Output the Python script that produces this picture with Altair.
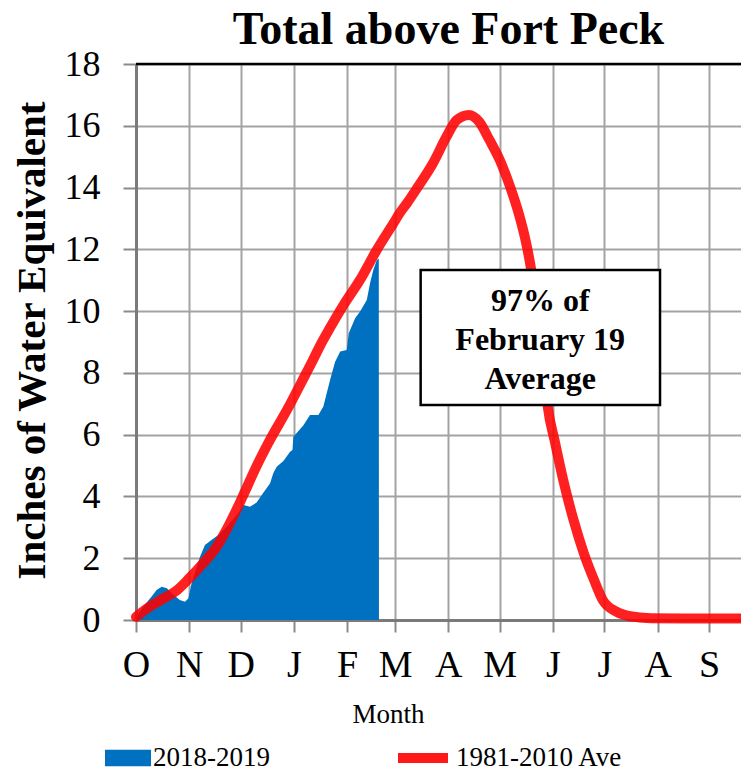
import altair as alt
import pandas as pd

# ---------------- data ----------------
title_text = "Total above Fort Peck"
y_title = "Inches of Water Equivalent"
x_title = "Month"

month_ticks = [0, 31, 61, 92, 123, 151, 182, 212, 243, 273, 304, 334]
month_labels = ["O", "N", "D", "J", "F", "M", "A", "M", "J", "J", "A", "S"]
y_ticks = [0, 2, 4, 6, 8, 10, 12, 14, 16, 18]

series_current = "2018-2019"
series_average = "1981-2010 Ave"

# days since Oct 1 / inches of SWE, current season
cur_days = [0, 2, 6, 9, 12, 15, 18, 21, 25.5, 28.5, 30.5, 32.4, 37.3, 40.2, 44,
            48, 52.8, 58.7, 62.6, 66.4, 70.3, 74.2, 78.1, 80, 82, 85.9, 89.8,
            91.2, 91.7, 97.5, 101.4, 106.3, 109.2, 113.1, 116, 119, 122.8, 124,
            127.7, 130.6, 134.5, 136.4, 138.3, 140.3, 141.5, 141.6]
cur_swe = [0, 0.27, 0.55, 0.75, 0.97, 1.08, 1.03, 0.86, 0.65, 0.59, 0.70, 1.19,
           2.05, 2.43, 2.59, 2.75, 3.02, 3.40, 3.72, 3.67, 3.80, 4.12, 4.42,
           4.75, 4.96, 5.15, 5.45, 5.50, 5.93, 6.30, 6.64, 6.64, 6.91, 7.77,
           8.35, 8.69, 8.74, 9.28, 9.77, 9.99, 10.36, 10.90, 11.33, 11.65,
           11.70, 0]

# 1981-2010 average
avg_days = [0, 8, 16, 24, 31, 39, 47, 53, 59, 63, 70, 78, 88, 96, 103, 107,
            113, 121, 131, 140, 150, 154, 158, 164, 173, 181, 187, 194, 200,
            206, 212, 218, 223, 227, 230, 233, 237, 240, 244, 249, 255, 261,
            267, 272, 280, 288, 300, 320, 352.6]
avg_swe = [0.1, 0.43, 0.70, 0.97, 1.35, 1.83, 2.37, 2.95, 3.62, 4.1, 4.95, 5.82,
           6.8, 7.65, 8.4, 8.85, 9.45, 10.2, 11.05, 11.95, 12.84, 13.2, 13.5,
           14.0, 14.78, 15.65, 16.19, 16.35, 16.13, 15.54, 14.89, 14.03, 13.17,
           12.30, 11.44, 10.2, 8.6, 6.9, 5.8, 4.53, 3.24, 2.16, 1.29, 0.65,
           0.27, 0.12, 0.06, 0.05, 0.05]

# annotation box (data units)
note_lines = ["97% of", "February 19", "Average"]
note_day = [235.6, 235.6, 235.6]
note_swe = [10.34, 9.08, 7.79]
box_day = [165.9, 305.4]
box_swe = [6.96, 11.33]

x_max = 352.6
y_max = 18

# ---------------- build ----------------
FONT = "Liberation Serif"
BLUE = "#0070c0"
RED = "#ff0000"

cur_df = pd.DataFrame({"day": cur_days, "swe": cur_swe, "series": series_current})
avg_df = pd.DataFrame({"day": avg_days, "swe": avg_swe, "series": series_average})
note_df = pd.DataFrame({"day": note_day, "swe": note_swe, "text": note_lines})
box_df = pd.DataFrame({"x1": [box_day[0]], "x2": [box_day[1]],
                       "y1": [box_swe[0]], "y2": [box_swe[1]]})
top_df = pd.DataFrame({"y": [y_max]})

label_expr = "[{}][indexof([{}], datum.value)]".format(
    ",".join("'%s'" % m for m in month_labels),
    ",".join(str(v) for v in month_ticks),
)

x_scale = alt.Scale(domain=[0, x_max], nice=False, zero=False)
y_scale = alt.Scale(domain=[0, y_max], nice=False)

x_axis = alt.Axis(
    values=month_ticks, labelExpr=label_expr, title=x_title,
    grid=True, gridColor="#a3a3a3", gridWidth=2,
    domainColor="#7a7a7a", domainWidth=3,
    tickColor="#8a8a8a", tickWidth=2, tickSize=12,
    labelFont=FONT, labelFontSize=38, labelColor="black",
    labelPadding=14, labelOverlap=False, labelFlush=False, labelBaseline="top",
    titleFont=FONT, titleFontSize=27, titleFontWeight="normal", titleColor="black",
    titleX=252, titleY=94, titleBaseline="middle", titleAlign="center",
)
y_axis = alt.Axis(
    values=y_ticks, format="d", title=y_title,
    grid=True, gridColor="#a3a3a3", gridWidth=2,
    domainColor="#7a7a7a", domainWidth=3,
    tickColor="#8a8a8a", tickWidth=2, tickSize=13,
    labelFont=FONT, labelFontSize=36, labelColor="black", labelPadding=23,
    titleFont=FONT, titleFontSize=41, titleFontWeight="bold", titleColor="black",
    titleAngle=-90, titleX=-104, titleY=276, titleBaseline="middle",
    titleAlign="center",
)

legend_common = dict(title=None, orient="none", labelFont=FONT, labelFontSize=27,
                     labelColor="black", labelLimit=400, padding=0,
                     symbolSize=2500)

area = alt.Chart(cur_df).mark_area(interpolate="linear").encode(
    x=alt.X("day:Q", scale=x_scale, axis=x_axis),
    y=alt.Y("swe:Q", scale=y_scale, axis=y_axis),
    fill=alt.Fill("series:N",
                  scale=alt.Scale(domain=[series_current], range=[BLUE]),
                  legend=alt.Legend(legendX=-33, legendY=669,
                                    symbolType="M-0.92,-0.33H0.92V0.33H-0.92Z",
                                    symbolStrokeWidth=0, symbolOpacity=1,
                                    labelOffset=0, **legend_common)),
)

line = alt.Chart(avg_df).mark_line(
    interpolate="monotone", strokeWidth=10, strokeCap="round", strokeJoin="round",
    strokeOpacity=0.87,
).encode(
    x=alt.X("day:Q", scale=x_scale),
    y=alt.Y("swe:Q", scale=y_scale),
    stroke=alt.Stroke("series:N",
                      scale=alt.Scale(domain=[series_average], range=[RED]),
                      legend=alt.Legend(legendX=257, legendY=664,
                                        symbolType="M-1,0H1",
                                        symbolStrokeWidth=10, symbolOpacity=0.9,
                                        labelOffset=3, **legend_common)),
)

top_rule = alt.Chart(top_df).mark_rule(color="black", strokeWidth=2.5).encode(
    y=alt.Y("y:Q", scale=y_scale)
)

box = alt.Chart(box_df).mark_rect(fill="white", stroke="black", strokeWidth=2.5).encode(
    x=alt.X("x1:Q", scale=x_scale), x2="x2:Q",
    y=alt.Y("y1:Q", scale=y_scale), y2="y2:Q",
)

notes = alt.Chart(note_df).mark_text(
    font=FONT, fontSize=32, fontWeight="bold", color="black",
    align="center", baseline="middle",
).encode(
    x=alt.X("day:Q", scale=x_scale),
    y=alt.Y("swe:Q", scale=y_scale),
    text="text:N",
)

chart = alt.layer(area, line, top_rule, box, notes).resolve_scale(
    fill="independent", stroke="independent"
).properties(
    width=605, height=556,
    autosize=alt.AutoSizeParams(type="none"),
    padding={"left": 128, "top": 56, "right": 0, "bottom": 152},
    title=alt.TitleParams(title_text, font=FONT, fontSize=46, fontWeight="bold",
                          color="black", anchor="middle", offset=15, dx=10, dy=23),
).configure_view(stroke=None)

chart.save("out.html", embed_options={"renderer": "svg", "actions": False})
